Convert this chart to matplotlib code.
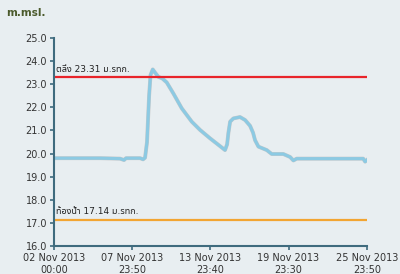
import matplotlib
matplotlib.use('Agg')
import matplotlib.pyplot as plt
import matplotlib.transforms as mtransforms
import numpy as np
import pandas as pd

# water level readings (day offset from 02 Nov 2013 00:00, m.msl.)
day_offset = [0, 3.53, 5.06, 5.37, 5.52, 6.6, 6.83, 6.98, 7.13, 7.29, 7.4, 7.57, 7.75,
              8.0, 8.3, 8.64, 9.15, 9.79, 10.56, 11.2, 11.96, 12.73, 13.11, 13.27, 13.37,
              13.5, 13.75, 14.26, 14.65, 15.03, 15.26, 15.41, 15.67, 16.31, 16.69,
              17.58, 18.1, 18.35, 18.61, 21.17, 23.7, 23.85, 23.99]
level = [19.80, 19.80, 19.78, 19.72, 19.80, 19.80, 19.75, 19.82, 20.5, 22.5, 23.4, 23.64, 23.5,
         23.32, 23.25, 23.08, 22.6, 21.96, 21.38, 21.02, 20.66, 20.32, 20.15, 20.4, 20.9,
         21.38, 21.52, 21.58, 21.45, 21.2, 20.9, 20.58, 20.3, 20.15, 19.98,
         19.98, 19.85, 19.7, 19.78, 19.78, 19.78, 19.65, 19.72]

bank_level = 23.31
bed_level = 17.14
bank_label = 'ตลิ่ง 23.31 ม.รทก.'
bed_label = 'ท้องน้ำ 17.14 ม.รทก.'

tick_times = ['2013-11-02 00:00', '2013-11-07 23:50', '2013-11-13 23:40',
              '2013-11-19 23:30', '2013-11-25 23:50']
tick_labels = ['02 Nov 2013\n00:00', '07 Nov 2013\n23:50', '13 Nov 2013\n23:40',
               '19 Nov 2013\n23:30', '25 Nov 2013\n23:50']

start = pd.Timestamp('2013-11-02 00:00')
times = start + pd.to_timedelta(day_offset, unit='D')
ticks = pd.to_datetime(tick_times)

fonts = ['DejaVu Sans', 'Noto Sans Thai', 'Sarabun']
bg = '#e8eef1'
axcol = '#3f6b7e'

fig = plt.figure(figsize=(4, 2.74), dpi=100, facecolor=bg)
ax = fig.add_axes([0.135, 0.1022, 0.7825, 0.7591], facecolor=bg)

# shadow then line
ax.plot(times, level, color='#9a9a9a', lw=2.8, alpha=0.45, solid_joinstyle='round')
ax.plot(times, level, color='#8ccae3', lw=2.2, solid_joinstyle='round')

ax.axhline(bank_level, color='#e8242a', lw=1.6)
ax.axhline(bed_level, color='#f2a532', lw=1.6)
# nudge labels a couple of pixels right of the axis
shift = mtransforms.offset_copy(ax.transData, fig=fig, x=2, y=0, units='dots')
ax.text(times[0], bank_level + 0.14, bank_label, fontsize=6.5, color='#222222',
        family=fonts, va='bottom', ha='left', transform=shift)
ax.text(times[0], bed_level + 0.14, bed_label, fontsize=6.5, color='#222222',
        family=fonts, va='bottom', ha='left', transform=shift)

ax.set_xlim(ticks[0], ticks[-1])
ax.set_ylim(16, 25)
ax.set_yticks(np.arange(16, 25.1, 1.0))
ax.set_yticklabels(['%.1f' % v for v in np.arange(16, 25.1, 1.0)])
ax.set_xticks(ticks)
ax.set_xticklabels(tick_labels)

for s in ['top', 'right']:
    ax.spines[s].set_visible(False)
for s in ['left', 'bottom']:
    ax.spines[s].set_color(axcol)
    ax.spines[s].set_linewidth(1.5)
ax.tick_params(colors=axcol, length=3, width=1.2, labelsize=7, labelcolor='#333333', pad=2)

fig.text(6 / 400, 1 - 13 / 274, 'm.msl.', fontsize=7.5, fontweight='bold', color='#4b5a2c',
         va='center', ha='left')

fig.savefig('out.png', dpi=100, facecolor=bg)
